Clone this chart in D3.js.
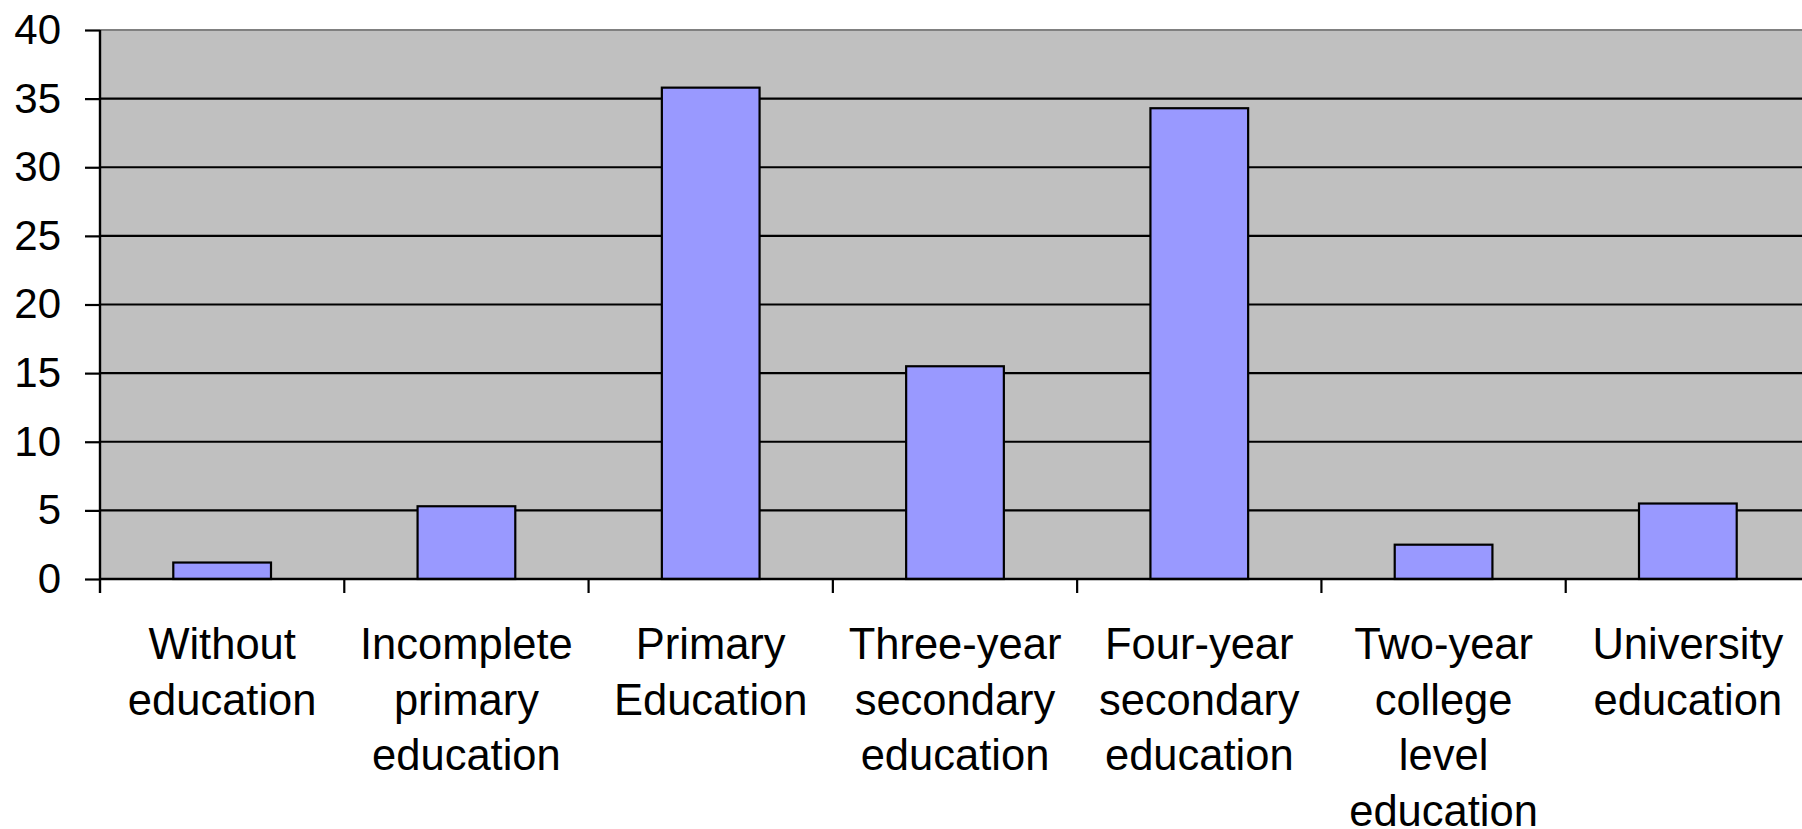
<!DOCTYPE html>
<html>
<head>
<meta charset="utf-8">
<script src="https://cdn.jsdelivr.net/npm/d3@7"></script>
<style>
  html, body { margin: 0; padding: 0; background: #ffffff; }
  svg { display: block; }
  text { font-family: "Liberation Sans", Arial, sans-serif; fill: #000; }
</style>
</head>
<body>
<svg id="chart" width="1802" height="829"></svg>
<script>
// Education level of respondents (percent)
const categories = [
  "Without education",
  "Incomplete primary education",
  "Primary Education",
  "Three-year secondary education",
  "Four-year secondary education",
  "Two-year college level education",
  "University education"
];
const values = [1.2, 5.3, 35.8, 15.5, 34.3, 2.5, 5.5];
const yTicks = [0, 5, 10, 15, 20, 25, 30, 35, 40];

const svg = d3.select("#chart");
const plotLeft = 100, plotRight = 1810, plotTop = 30, plotBottom = 579;

const y = d3.scaleLinear().domain([0, 40]).range([plotBottom, plotTop]);
// category slots (tick marks sit on slot boundaries)
const slot = d3.scaleBand().domain(categories).range([plotLeft, plotRight]).padding(0);
// bars take 40% of each slot, centred
const x = d3.scaleBand().domain(categories).range([plotLeft, plotRight])
  .paddingInner(0.6).paddingOuter(0.3);

// plot background
svg.append("rect")
  .attr("x", plotLeft).attr("y", plotTop)
  .attr("width", plotRight - plotLeft).attr("height", plotBottom - plotTop)
  .attr("fill", "#c0c0c0");

// horizontal gridlines
svg.append("g").selectAll("line")
  .data(yTicks.filter(d => d > 0))
  .join("line")
  .attr("x1", plotLeft).attr("x2", plotRight)
  .attr("y1", d => y(d)).attr("y2", d => y(d))
  .attr("stroke", d => d === 40 ? "#808080" : "#000")
  .attr("stroke-width", 2.2);

// bars
svg.append("g").selectAll("rect")
  .data(values)
  .join("rect")
  .attr("x", (d, i) => x(categories[i]))
  .attr("width", x.bandwidth())
  .attr("y", d => y(d))
  .attr("height", d => y(0) - y(d))
  .attr("fill", "#9999ff")
  .attr("stroke", "#000")
  .attr("stroke-width", 2.2);

// y axis
const yAxis = d3.axisLeft(y).tickValues(yTicks).tickSize(15).tickPadding(24);
const gy = svg.append("g").attr("transform", `translate(${plotLeft},0)`).call(yAxis);
gy.select(".domain").remove();
gy.selectAll(".tick line").attr("stroke", "#000").attr("stroke-width", 2.2);
gy.selectAll(".tick text")
  .attr("font-size", 42)
  .attr("font-family", "Liberation Sans, Arial, sans-serif")
  .attr("fill", "#000");
svg.append("line")
  .attr("x1", plotLeft).attr("x2", plotLeft)
  .attr("y1", plotTop).attr("y2", plotBottom + 14)
  .attr("stroke", "#000").attr("stroke-width", 2.4);

// x axis line and slot-boundary ticks
svg.append("line")
  .attr("x1", plotLeft).attr("x2", plotRight)
  .attr("y1", plotBottom).attr("y2", plotBottom)
  .attr("stroke", "#000").attr("stroke-width", 2.4);
svg.append("g").selectAll("line")
  .data(categories.slice(1))
  .join("line")
  .attr("x1", d => slot(d)).attr("x2", d => slot(d))
  .attr("y1", plotBottom).attr("y2", plotBottom + 14)
  .attr("stroke", "#000").attr("stroke-width", 2.2);

// category labels, wrapped within each slot
const fontSize = 43.5, lineGap = 55.6, maxWidth = 228, firstBaseline = 659;
const labels = svg.append("g")
  .attr("font-size", fontSize)
  .attr("text-anchor", "middle");
categories.forEach(cat => {
  const cx = slot(cat) + slot.bandwidth() / 2;
  const t = labels.append("text").attr("x", cx).attr("y", firstBaseline);
  const words = cat.split(" ");
  let line = [], lineNo = 0;
  let tspan = t.append("tspan").attr("x", cx).attr("y", firstBaseline);
  words.forEach(w => {
    line.push(w);
    tspan.text(line.join(" "));
    if (line.length > 1 && tspan.node().getComputedTextLength() > maxWidth) {
      line.pop();
      tspan.text(line.join(" "));
      line = [w];
      lineNo++;
      tspan = t.append("tspan").attr("x", cx)
        .attr("y", firstBaseline + lineNo * lineGap).text(w);
    }
  });
});
</script>
</body>
</html>
